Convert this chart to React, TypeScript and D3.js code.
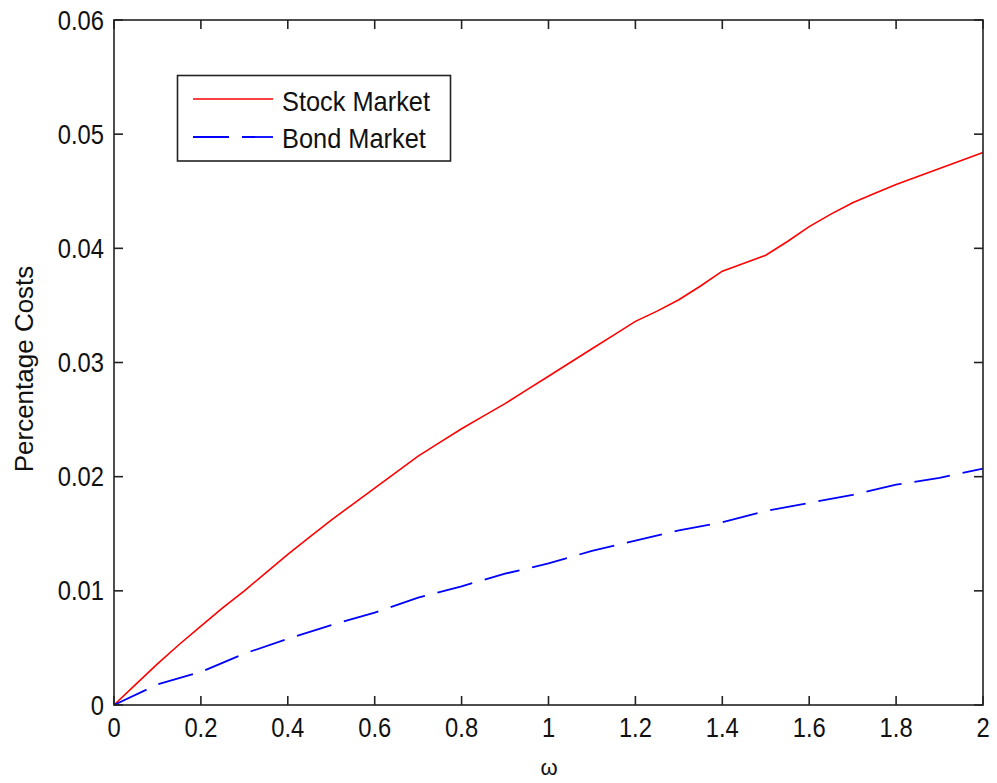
import React from "react";
import * as d3 from "d3";

const stockX = [0, 0.05, 0.1, 0.15, 0.2, 0.25, 0.3, 0.35, 0.4, 0.45, 0.5, 0.55, 0.6, 0.65, 0.7, 0.75, 0.8, 0.85, 0.9, 0.95, 1.0, 1.05, 1.1, 1.15, 1.2, 1.25, 1.3, 1.35, 1.4, 1.45, 1.5, 1.55, 1.6, 1.65, 1.7, 1.75, 1.8, 1.85, 1.9, 1.95, 2.0];
const stockY = [0, 0.0018, 0.0036, 0.0053, 0.0069, 0.0085, 0.0100, 0.0116, 0.0132, 0.0147, 0.0162, 0.0176, 0.0190, 0.0204, 0.0218, 0.0230, 0.0242, 0.0253, 0.0264, 0.0276, 0.0288, 0.0300, 0.0312, 0.0324, 0.0336, 0.0345, 0.0355, 0.0367, 0.0380, 0.0387, 0.0394, 0.0406, 0.0419, 0.0430, 0.0440, 0.0448, 0.0456, 0.0463, 0.0470, 0.0477, 0.0484];
const bondX = [0, 0.1, 0.2, 0.3, 0.4, 0.5, 0.6, 0.7, 0.8, 0.9, 1.0, 1.1, 1.2, 1.3, 1.4, 1.5, 1.6, 1.7, 1.8, 1.9, 2.0];
const bondY = [0, 0.0018, 0.0029, 0.0045, 0.0058, 0.0070, 0.0081, 0.0094, 0.0104, 0.0115, 0.0124, 0.0135, 0.0144, 0.0153, 0.0160, 0.0170, 0.0177, 0.0184, 0.0193, 0.0199, 0.0207];
const xTicks = [0, 0.2, 0.4, 0.6, 0.8, 1, 1.2, 1.4, 1.6, 1.8, 2];
const xTickLabels = ["0", "0.2", "0.4", "0.6", "0.8", "1", "1.2", "1.4", "1.6", "1.8", "2"];
const yTicks = [0, 0.01, 0.02, 0.03, 0.04, 0.05, 0.06];
const yTickLabels = ["0", "0.01", "0.02", "0.03", "0.04", "0.05", "0.06"];
const seriesNames = ["Stock Market", "Bond Market"];

const W = 997, H = 783;
const L = 114, R = 983, T = 20, B = 705;
const FONT = "'Liberation Sans', Arial, Helvetica, sans-serif";

export default function App() {
  const x = d3.scaleLinear().domain([0, 2]).range([L, R]);
  const y = d3.scaleLinear().domain([0, 0.06]).range([B, T]);
  const line = d3.line<[number, number]>().x(d => x(d[0])).y(d => y(d[1]));
  const stock = line(stockX.map((v, i) => [v, stockY[i]] as [number, number])) || "";
  const bond = line(bondX.map((v, i) => [v, bondY[i]] as [number, number])) || "";
  const tk = 9;
  const axisColor = "#222";
  return (
    <svg width={W} height={H} style={{ position: "absolute", left: 0, top: 0, background: "#fff" }}>
      <rect x={0} y={0} width={W} height={H} fill="#fff" />
      <path d={stock} fill="none" stroke="#ff0000" strokeWidth={1.6} />
      <path d={bond} fill="none" stroke="#0000ff" strokeWidth={1.8} strokeDasharray="36,13" />
      <rect x={L} y={T} width={R - L} height={B - T} fill="none" stroke={axisColor} strokeWidth={1.6} />
      {xTicks.map((t, i) => (
        <g key={"xt" + i}>
          <line x1={x(t)} x2={x(t)} y1={B} y2={B - tk} stroke={axisColor} strokeWidth={1.6} />
          <line x1={x(t)} x2={x(t)} y1={T} y2={T + tk} stroke={axisColor} strokeWidth={1.6} />
          <text transform={`translate(${x(t)},737) scale(0.88,1)`} textAnchor="middle" fontFamily={FONT} fontSize={27} fill="#111">{xTickLabels[i]}</text>
        </g>
      ))}
      {yTicks.map((t, i) => (
        <g key={"yt" + i}>
          <line x1={L} x2={L + tk} y1={y(t)} y2={y(t)} stroke={axisColor} strokeWidth={1.6} />
          <line x1={R} x2={R - tk} y1={y(t)} y2={y(t)} stroke={axisColor} strokeWidth={1.6} />
          <text transform={`translate(104,${y(t) + 9.5}) scale(0.88,1)`} textAnchor="end" fontFamily={FONT} fontSize={27} fill="#111">{yTickLabels[i]}</text>
        </g>
      ))}
      <text transform="translate(33,369) rotate(-90)" textAnchor="middle" fontFamily={FONT} fontSize={26} fill="#111">Percentage Costs</text>
      <text x={549} y={775} textAnchor="middle" fontFamily={FONT} fontSize={22} fill="#111">ω</text>
      <rect x={177.5} y={75.5} width={273} height={85.5} fill="#fff" stroke={axisColor} strokeWidth={1.6} />
      <line x1={193} x2={273} y1={99} y2={99} stroke="#ff0000" strokeWidth={1.6} />
      <line x1={193} x2={273} y1={137} y2={137} stroke="#0000ff" strokeWidth={1.8} strokeDasharray="36,13" />
      <text transform="translate(282,110.5) scale(0.94,1)" fontFamily={FONT} fontSize={27} fill="#111">{seriesNames[0]}</text>
      <text transform="translate(282,148) scale(0.94,1)" fontFamily={FONT} fontSize={27} fill="#111">{seriesNames[1]}</text>
    </svg>
  );
}
